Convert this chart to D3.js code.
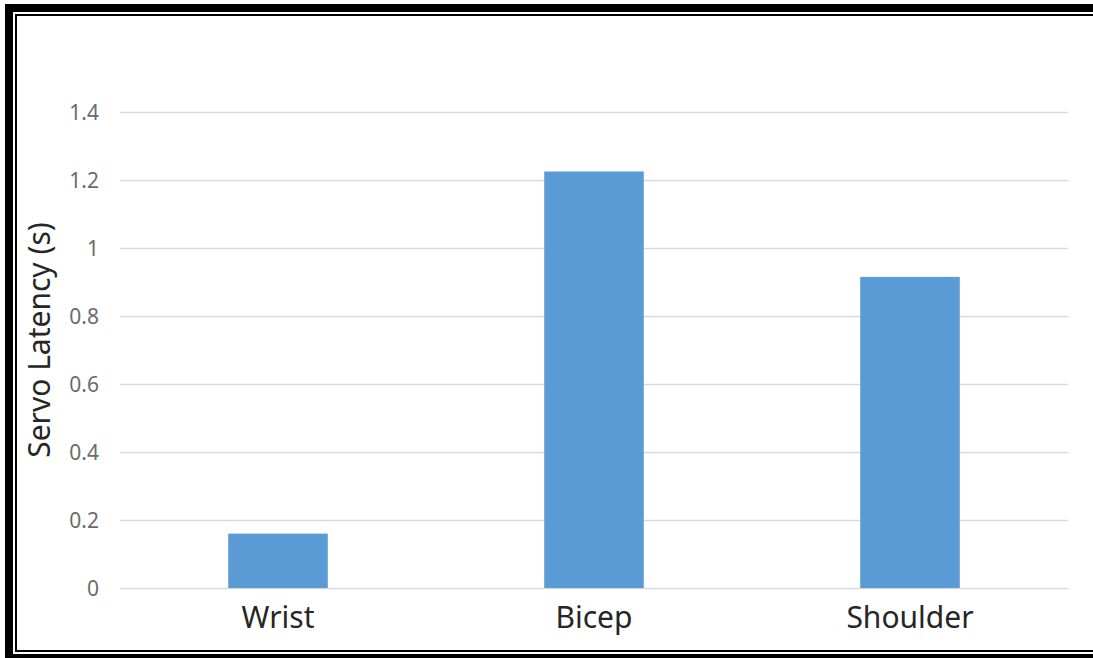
<!DOCTYPE html>
<html>
<head>
<meta charset="utf-8">
<script src="https://cdn.jsdelivr.net/npm/d3@7"></script>
<style>
  body { margin: 0; background: #fff; }
  svg { display: block; }
</style>
</head>
<body>
<svg id="chart"></svg>
<script>
const joints = ["Wrist", "Bicep", "Shoulder"];
const latency = [0.16, 1.225, 0.915];
const yTicks = [0, 0.2, 0.4, 0.6, 0.8, 1, 1.2, 1.4];
const yTitle = "Servo Latency (s)";

const W = 1093, H = 658;
const plot = { left: 120, right: 1068, top: 112, bottom: 588 };

const svg = d3.select("#chart")
  .attr("width", W)
  .attr("height", H);

// double frame round the picture
svg.append("rect")
  .attr("x", 9).attr("y", 8)
  .attr("width", W + 20).attr("height", 650)
  .attr("fill", "none")
  .attr("stroke", "#000")
  .attr("stroke-width", 8);

svg.append("rect")
  .attr("x", 16).attr("y", 15)
  .attr("width", W + 20).attr("height", 636)
  .attr("fill", "none")
  .attr("stroke", "#000")
  .attr("stroke-width", 2);

const x = d3.scaleBand()
  .domain(joints)
  .range([plot.left, plot.right])
  .paddingInner(0.685)
  .paddingOuter(0.3425);

const y = d3.scaleLinear()
  .domain([0, 1.4])
  .range([plot.bottom, plot.top]);

// gridlines
svg.append("g")
  .selectAll("line")
  .data(yTicks)
  .enter()
  .append("line")
  .attr("x1", plot.left)
  .attr("x2", plot.right)
  .attr("y1", d => Math.round(y(d)) + 0.5)
  .attr("y2", d => Math.round(y(d)) + 0.5)
  .attr("stroke", "#d9d9d9")
  .attr("stroke-width", 1.5);

// y tick labels
svg.append("g")
  .selectAll("text")
  .data(yTicks)
  .enter()
  .append("text")
  .attr("x", 99)
  .attr("y", d => y(d))
  .attr("dy", "0.36em")
  .attr("text-anchor", "end")
  .style("font-family", "'Noto Sans', sans-serif")
  .style("font-size", "21px")
  .style("fill", "#6b6b6b")
  .text(d => d);

// bars
svg.append("g")
  .selectAll("rect")
  .data(joints)
  .enter()
  .append("rect")
  .attr("x", d => x(d))
  .attr("width", x.bandwidth())
  .attr("y", (d, i) => y(latency[i]))
  .attr("height", (d, i) => y(0) - y(latency[i]))
  .attr("fill", "#5b9bd5");

// category labels
svg.append("g")
  .selectAll("text")
  .data(joints)
  .enter()
  .append("text")
  .attr("x", d => x(d) + x.bandwidth() / 2)
  .attr("y", 628)
  .attr("text-anchor", "middle")
  .style("font-family", "'Noto Sans', sans-serif")
  .style("font-size", "30px")
  .style("fill", "#262626")
  .text(d => d);

// y title
svg.append("text")
  .attr("transform", `translate(50,${(plot.top + plot.bottom) / 2 - 10}) rotate(-90)`)
  .attr("text-anchor", "middle")
  .style("font-family", "'Noto Sans', sans-serif")
  .style("font-size", "30px")
  .style("fill", "#262626")
  .text(yTitle);
</script>
</body>
</html>
